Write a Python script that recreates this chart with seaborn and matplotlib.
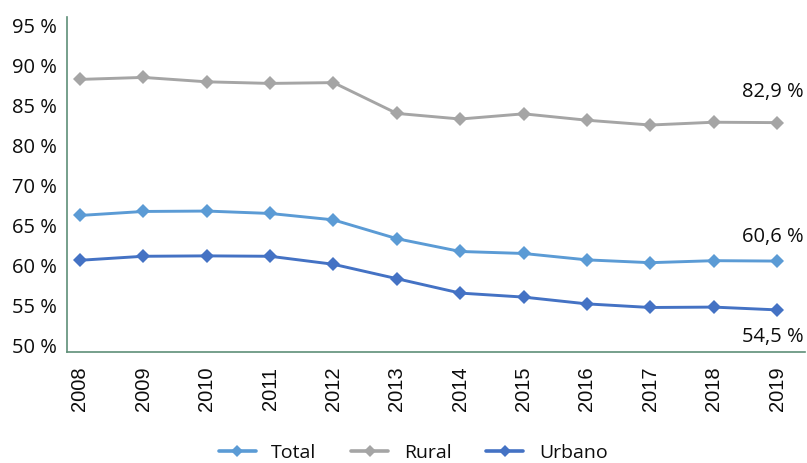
import numpy as np
import pandas as pd
import matplotlib
matplotlib.use("Agg")
import matplotlib.pyplot as plt
from matplotlib.lines import Line2D
import seaborn as sns

# Share of employment by area, 2008-2019
years = list(range(2008, 2020))
total = [66.3, 66.8, 66.85, 66.55, 65.75, 63.4, 61.8, 61.55, 60.75, 60.4, 60.65, 60.6]
rural = [88.3, 88.55, 88.0, 87.8, 87.9, 84.05, 83.35, 84.0, 83.2, 82.6, 82.95, 82.9]
urbano = [60.7, 61.2, 61.25, 61.2, 60.2, 58.4, 56.6, 56.1, 55.25, 54.8, 54.85, 54.5]

series_names = ["Total", "Rural", "Urbano"]
series_colors = {"Total": "#5B9BD5", "Rural": "#A5A5A5", "Urbano": "#4472C4"}
y_ticks = [50, 55, 60, 65, 70, 80, 85, 90, 95]
y_tick_labels = ["50 %", "55 %", "60 %", "65 %", "70 %", "80 %", "85 %", "90 %", "95 %"]
end_labels = {"Rural": "82,9 %", "Total": "60,6 %", "Urbano": "54,5 %"}

df = pd.DataFrame({"Año": years * 3,
                   "Serie": sum([[n] * len(years) for n in series_names], []),
                   "Valor": total + rural + urbano})

sns.set_theme(style="white")
plt.rcParams["font.family"] = ["Open Sans", "DejaVu Sans"]

fig = plt.figure(figsize=(8.07, 4.63), dpi=100)
ax = fig.add_axes([0.083, 0.2408, 0.9145, 0.7225])


# Broken value axis: 70 % to 80 % is compressed into one tick interval
def fwd(v):
    v = np.asarray(v, dtype=float)
    return np.where(v <= 70, v, np.where(v >= 80, v - 5, 70 + (v - 70) / 2))


def inv(t):
    t = np.asarray(t, dtype=float)
    return np.where(t <= 70, t, np.where(t >= 75, t + 5, 70 + (t - 70) * 2))


ax.set_yscale("function", functions=(fwd, inv))

sns.lineplot(data=df, x="Año", y="Valor", hue="Serie", hue_order=series_names,
             palette=series_colors, marker="D", markersize=7.5, markeredgewidth=0,
             linewidth=2.1, ax=ax, legend=False)

ax.set_ylim(49.3, 96.1)
ax.set_xlim(2007.795, 2019.44)
ax.set_yticks(y_ticks)
ax.set_yticklabels(y_tick_labels, fontsize=14.5, color="#0d0d0d")
ax.set_xticks(years)
ax.set_xticklabels([str(y) for y in years], rotation=90, fontsize=14.5,
                   family="Liberation Sans", color="#0d0d0d")
ax.tick_params(axis="y", length=0, pad=7)
ax.tick_params(axis="x", length=0, pad=11)
ax.set_xlabel("")
ax.set_ylabel("")

for side in ["top", "right"]:
    ax.spines[side].set_visible(False)
for side in ["left", "bottom"]:
    ax.spines[side].set_color("#5f8f78")
    ax.spines[side].set_linewidth(1.2)

last = {"Total": total[-1], "Rural": rural[-1], "Urbano": urbano[-1]}
offsets = {"Rural": 22, "Total": 17.5, "Urbano": -19.5}
for name, txt in end_labels.items():
    ax.annotate(txt, xy=(years[-1], last[name]), xytext=(-3, offsets[name]),
                textcoords="offset points", ha="center", va="center",
                fontsize=14.5, color="#0d0d0d", annotation_clip=False)

handles = [Line2D([0], [0], color=series_colors[n], marker="D", markersize=6,
                  markeredgewidth=0, linewidth=2.6) for n in series_names]
fig.legend(handles, series_names, loc="center", bbox_to_anchor=(0.512, 0.022),
           ncol=3, frameon=False, fontsize=14, handlelength=1.9,
           handletextpad=0.8, columnspacing=1.8, labelcolor="#0d0d0d")

fig.savefig("out.png", dpi=100)
